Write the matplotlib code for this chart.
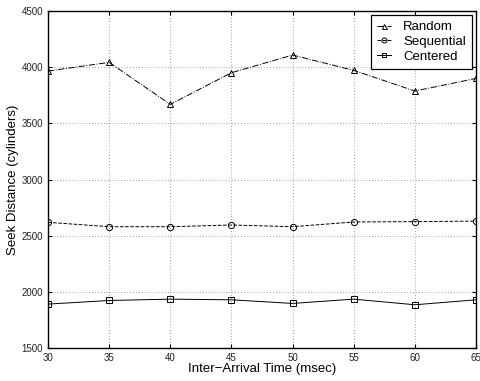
import matplotlib
matplotlib.use("Agg")
import matplotlib.pyplot as plt

plt.rcParams['font.family'] = ['Liberation Sans', 'DejaVu Sans']

# Data
arrival = [30, 35, 40, 45, 50, 55, 60, 65]
random_seek = [3966, 4043, 3669, 3951, 4108, 3972, 3788, 3900]
sequential_seek = [2619, 2580, 2580, 2595, 2580, 2622, 2625, 2630]
centered_seek = [1891, 1923, 1935, 1929, 1897, 1935, 1885, 1929]

fig = plt.figure(figsize=(4.8, 3.81), dpi=100)
ax = fig.add_axes([0.1, 0.0866, 0.8917, 0.8844])

ax.plot(arrival, random_seek, color='black', linestyle='-.', linewidth=0.7,
        marker='^', markersize=4.5, markerfacecolor='none', markeredgewidth=0.7,
        label='Random')
ax.plot(arrival, sequential_seek, color='black', linestyle='--', linewidth=0.7,
        marker='o', markersize=4.5, markerfacecolor='none', markeredgewidth=0.7,
        label='Sequential')
ax.plot(arrival, centered_seek, color='black', linestyle='-', linewidth=0.7,
        marker='s', markersize=4, markerfacecolor='none', markeredgewidth=0.7,
        label='Centered')

ax.set_xlim(30, 65)
ax.set_ylim(1500, 4500)
ax.set_xticks(arrival)
ax.set_yticks(range(1500, 4501, 500))
ax.tick_params(direction='in', labelsize=7, labelcolor='#222222', top=True, right=True, length=3)
ax.grid(True, linestyle=(0, (1, 2.5)), color='gray', linewidth=0.6)
for s in ax.spines.values():
    s.set_linewidth(1.0)

ax.set_xlabel("Inter\u2212Arrival Time (msec)", fontsize=9.5, labelpad=0)
ax.set_ylabel("Seek Distance (cylinders)", fontsize=9.5, labelpad=2)

leg = ax.legend(loc='upper right', fontsize=9.5, fancybox=False, edgecolor='black',
                framealpha=1, handlelength=1.1, handletextpad=0.9, borderpad=0.45,
                labelspacing=0.2, borderaxespad=0.3, markerscale=0.8)
leg.get_frame().set_linewidth(0.9)

fig.savefig("out.png", dpi=100)
